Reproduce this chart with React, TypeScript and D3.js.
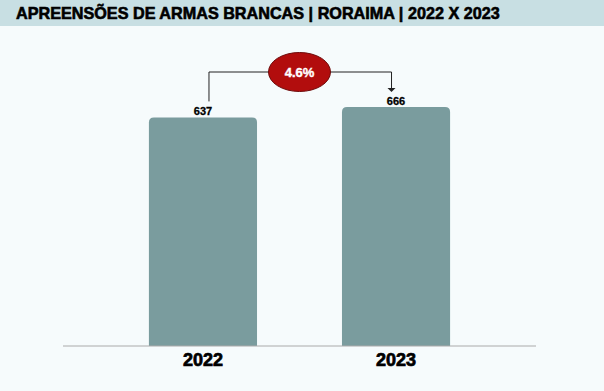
import * as d3 from 'd3';
import React from 'react';

const years: string[] = ['2022', '2023'];
const seizures: number[] = [637, 666];
const title = 'APREENSÕES DE ARMAS BRANCAS | RORAIMA | 2022 X 2023';

const W = 604;
const H = 391;
const baseY = 346;

const App: React.FC = () => {
  const x = d3.scaleBand<string>().domain(years).range([63, 536]).paddingInner(0.44).paddingOuter(0.445);
  const y = d3.scaleLinear().domain([0, 666]).range([baseY, 107]);
  const change = ((seizures[1] - seizures[0]) / seizures[0]) * 100;

  const cx0 = (x(years[0]) ?? 0) + x.bandwidth() / 2;
  const cx1 = (x(years[1]) ?? 0) + x.bandwidth() / 2;
  const arrowY = 72;
  const midX = (cx0 + cx1) / 2;
  const font = '"Liberation Sans", Arial, sans-serif';
  const tipY = y(seizures[1]) - 15;

  return (
    <div style={{ position: 'fixed', left: 0, top: 0 }}>
      <svg width={W} height={H} style={{ display: 'block' }} fontFamily={font}>
        <rect x={0} y={0} width={W} height={H} fill="#f6fbfc" />
        <rect x={0} y={0} width={W} height={26} fill="#c8dfe3" />
        <text x={16} y={19} fontSize={16.2} fontWeight="bold" fill="#000" stroke="#000" strokeWidth={0.6}>
          {title}
        </text>

        {years.map((yr, i) => {
          const bx = x(yr) ?? 0;
          const top = y(seizures[i]);
          const r = 5;
          const w = x.bandwidth();
          const path = `M${bx},${baseY} V${top + r} Q${bx},${top} ${bx + r},${top} H${bx + w - r} Q${bx + w},${top} ${bx + w},${top + r} V${baseY} Z`;
          return (
            <g key={yr}>
              <path d={path} fill="#7a9c9e" />
              <text x={bx + w / 2} y={top - 2} textAnchor="middle" fontSize={11} fontWeight="bold" fill="#000" stroke="#000" strokeWidth={0.3}>
                {seizures[i]}
              </text>
              <text x={bx + w / 2} y={366} textAnchor="middle" fontSize={18} fontWeight="bold" fill="#000" stroke="#000" strokeWidth={0.7}>
                {yr}
              </text>
            </g>
          );
        })}

        <line x1={63} x2={536} y1={baseY} y2={baseY} stroke="#aaaaaa" strokeWidth={1} />

        <path
          d={`M${cx0 + 6},${y(seizures[0]) - 16} V${arrowY} H${cx1 - 4.5} V${tipY - 3}`}
          fill="none"
          stroke="#222"
          strokeWidth={1}
        />
        <path
          d={`M${cx1 - 8.5},${tipY - 4} L${cx1 - 0.5},${tipY - 4} L${cx1 - 4.5},${tipY} Z`}
          fill="#222"
        />
        <ellipse cx={midX} cy={arrowY} rx={31} ry={19.5} fill="#b20d0d" stroke="#6e0a0a" strokeWidth={1} />
        <text x={midX} y={arrowY + 4.5} textAnchor="middle" fontSize={13} fontWeight="bold" fill="#fff" stroke="#fff" strokeWidth={0.4}>
          {d3.format('.1f')(change)}%
        </text>
      </svg>
    </div>
  );
};

export default App;
